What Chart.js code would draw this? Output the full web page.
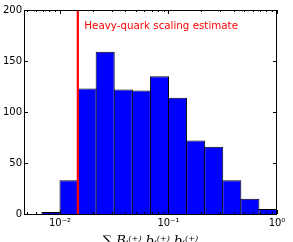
<!DOCTYPE html>
<html><head><meta charset="utf-8">
<script src="https://cdn.jsdelivr.net/npm/chart.js@4.4.1/dist/chart.umd.min.js"></script>
<style>html,body{margin:0;padding:0;background:#fff;overflow:hidden}canvas{display:block}</style>
</head><body>
<canvas id="c" width="293" height="242" style="width:293px;height:242px"></canvas>
<script>
// ---- data ----
const binEdges = [0.006813, 0.01, 0.014678, 0.021544, 0.031623, 0.046416, 0.068129, 0.1, 0.14678, 0.21544, 0.31623, 0.46416, 0.68129, 1.0];
const counts = [2, 33, 123, 159, 122, 121, 135, 114, 72, 66, 33, 15, 5];
const xTickValues = [0.01, 0.1, 1];
const xTickLabels = ['10\u207B\u00B2', '10\u207B\u00B9', '10\u2070'];
const yTickValues = [0, 50, 100, 150, 200];
const xRange = [0.00466, 1];
const yRange = [0, 200];
const heavyQuarkEstimate = 0.0146;
const annotationText = 'Heavy-quark scaling estimate';
const annotationY = 184;
const xAxisLabel = '\u2211 B\u1D62\u207D\u207A\u207E b\u1D62\u207D\u207A\u207E b\u1D62\u207D\u207A\u207E';

// bars placed at the geometric bin centres
const barData = counts.map((c, i) => ({ x: Math.sqrt(binEdges[i] * binEdges[i + 1]), y: c }));

const framePlugin = {
  id: 'frame',
  afterDatasetsDraw(chart) {
    const { ctx, chartArea: a, scales: { x, y } } = chart;
    ctx.save();
    // red vertical line
    const lx = x.getPixelForValue(heavyQuarkEstimate);
    ctx.strokeStyle = '#ff0000';
    ctx.lineWidth = 2.2;
    ctx.beginPath(); ctx.moveTo(lx, a.top); ctx.lineTo(lx, a.bottom); ctx.stroke();
    // annotation
    ctx.fillStyle = '#ff0000';
    ctx.font = '10.3px "DejaVu Sans"';
    ctx.textAlign = 'left'; ctx.textBaseline = 'middle';
    ctx.fillText(annotationText, lx + 6.5, y.getPixelForValue(annotationY));
    // spines
    ctx.strokeStyle = '#000'; ctx.lineWidth = 1;
    ctx.strokeRect(a.left + 0.5, a.top + 0.5, a.right - a.left - 1, a.bottom - a.top);
    // ticks (inward)
    ctx.beginPath();
    const vt = (px, len) => {
      ctx.moveTo(px, a.bottom); ctx.lineTo(px, a.bottom - len);
      ctx.moveTo(px, a.top); ctx.lineTo(px, a.top + len);
    };
    xTickValues.forEach(v => vt(Math.round(x.getPixelForValue(v)) + 0.5, 4));
    for (let k = -3; k <= -1; k++) {
      for (let m = 2; m <= 9; m++) {
        const v = m * Math.pow(10, k);
        if (v > xRange[0] && v < xRange[1]) vt(Math.round(x.getPixelForValue(v)) + 0.5, 2);
      }
    }
    yTickValues.forEach(v => {
      const py = Math.round(y.getPixelForValue(v)) + 0.5;
      ctx.moveTo(a.left, py); ctx.lineTo(a.left + 4, py);
      ctx.moveTo(a.right, py); ctx.lineTo(a.right - 4, py);
    });
    ctx.stroke();
    ctx.restore();
  }
};

new Chart(document.getElementById('c'), {
  type: 'bar',
  data: {
    datasets: [{
      data: barData,
      backgroundColor: '#0000ff',
      borderColor: '#000000',
      borderWidth: { top: 1, left: 1, right: 1, bottom: 0 },
      borderSkipped: false,
      barPercentage: 1.055,
      categoryPercentage: 1
    }]
  },
  options: {
    responsive: false,
    animation: false,
    devicePixelRatio: 1,
    layout: { padding: { left: 0, right: 16, top: 10, bottom: 0 } },
    plugins: { legend: { display: false }, tooltip: { enabled: false } },
    scales: {
      x: {
        type: 'logarithmic',
        min: xRange[0], max: xRange[1],
        offset: false,
        grid: { display: false, drawTicks: false },
        border: { display: false },
        afterBuildTicks: s => { s.ticks = xTickValues.map(v => ({ value: v })); },
        afterFit: s => { s.height = 28; },
        ticks: {
          autoSkip: false, maxRotation: 0, padding: 3,
          color: '#000', font: { family: 'DejaVu Sans', size: 10 },
          callback: v => xTickLabels[xTickValues.indexOf(v)]
        },
        title: {
          display: true, text: xAxisLabel, color: '#000',
          font: { family: 'DejaVu Serif', size: 13, style: 'italic' },
          padding: { top: 0, bottom: -7.5 }
        }
      },
      y: {
        min: yRange[0], max: yRange[1],
        grid: { display: false, drawTicks: false },
        border: { display: false },
        afterBuildTicks: s => { s.ticks = yTickValues.map(v => ({ value: v })); },
        afterFit: s => { s.width = 24; },
        ticks: { padding: 2, color: '#000', font: { family: 'DejaVu Sans', size: 10 } }
      }
    }
  },
  plugins: [framePlugin]
});
</script>
</body></html>
